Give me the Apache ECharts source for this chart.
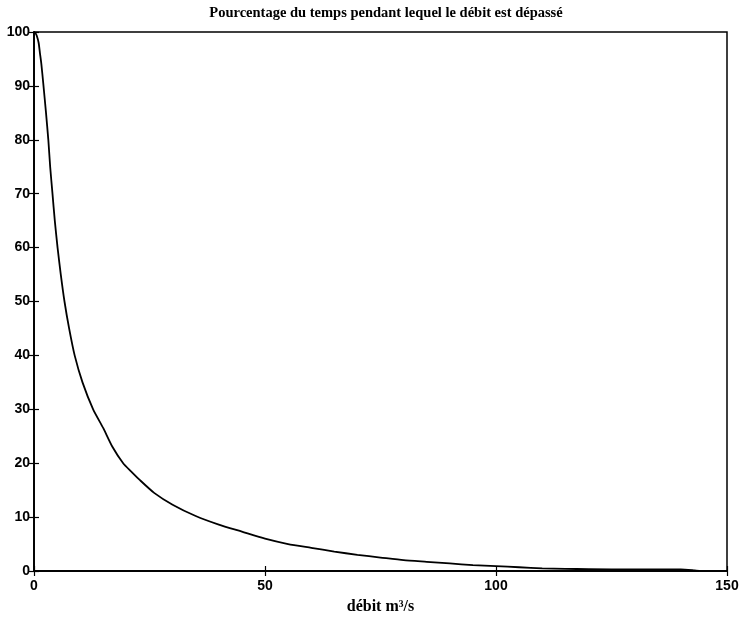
<!DOCTYPE html>
<html>
<head>
<meta charset="utf-8">
<script src="https://cdn.jsdelivr.net/npm/echarts@6/dist/echarts.min.js"></script>
<style>
  html, body { margin: 0; padding: 0; background: #fff; }
  #main { width: 745px; height: 620px; }
</style>
</head>
<body>
<div id="main"></div>
<script>
// débit (m3/s) et pourcentage du temps dépassé
var debit = [0, 0.3, 0.6, 1, 1.3, 1.6, 2, 2.6, 3.1, 3.5, 4.0, 4.5, 5.1, 5.8, 6.6, 7.6, 8.8, 10.5, 12.8, 15, 17, 19.3, 21, 23, 26, 30, 35, 40, 45, 50, 55, 60, 65, 70, 75, 80, 85, 90, 95, 100, 105, 110, 115, 120, 130, 140, 143, 144]
var pourcent = [100, 99.8, 99.3, 98, 96, 94, 90.5, 85, 80, 75, 70, 65, 60, 55, 50, 45, 40, 35, 30, 26.5, 23, 20, 18.5, 16.8, 14.5, 12.3, 10.2, 8.6, 7.3, 6.0, 5.0, 4.3, 3.6, 3.0, 2.5, 2.0, 1.7, 1.4, 1.1, 0.9, 0.7, 0.5, 0.4, 0.35, 0.3, 0.3, 0.1, 0]

var points = []
for (var i = 0; i < debit.length; i++) {
  points.push([debit[i], pourcent[i]])
}

var chart = echarts.init(document.getElementById('main'))
var labelFont = { color: '#000', fontFamily: 'Liberation Sans', fontWeight: 'bold', fontSize: 14 }
var tick = { inside: true, length: 5, lineStyle: { color: '#000', width: 1.2 } }
var line = { show: true, lineStyle: { color: '#000', width: 1.5 } }

var option = {
  animation: false,
  title: {
    text: 'Pourcentage du temps pendant lequel le débit est dépassé',
    left: 381,
    textAlign: 'center',
    top: 1,
    textStyle: { fontFamily: 'Liberation Serif', fontWeight: 'bold', fontSize: 14.5, color: '#000' }
  },
  grid: {
    left: 34,
    right: 18,
    top: 32,
    bottom: 46,
    show: true,
    borderColor: '#000',
    borderWidth: 1.5
  },
  xAxis: [
    {
      type: 'value',
      min: 0,
      max: 150,
      interval: 50,
      name: 'débit m³/s',
      nameLocation: 'middle',
      nameGap: 28,
      nameTextStyle: { fontFamily: 'Liberation Serif', fontWeight: 'bold', fontSize: 16, color: '#000' },
      axisLine: line,
      axisTick: tick,
      axisLabel: Object.assign({ margin: 8 }, labelFont),
      splitLine: { show: false }
    },
    {
      type: 'value',
      position: 'top',
      min: 0,
      max: 150,
      interval: 50,
      axisLine: line,
      axisTick: tick,
      axisLabel: { show: false },
      splitLine: { show: false }
    }
  ],
  yAxis: [
    {
      type: 'value',
      min: 0,
      max: 100,
      interval: 10,
      axisLine: line,
      axisTick: tick,
      axisLabel: Object.assign({ margin: 4 }, labelFont),
      splitLine: { show: false }
    },
    {
      type: 'value',
      position: 'right',
      min: 0,
      max: 100,
      interval: 10,
      axisLine: line,
      axisTick: tick,
      axisLabel: { show: false },
      splitLine: { show: false }
    }
  ],
  series: [
    {
      type: 'line',
      data: points,
      showSymbol: false,
      smooth: 0.2,
      lineStyle: { color: '#000', width: 1.8 }
    }
  ]
}

chart.setOption(option)
</script>
</body>
</html>
